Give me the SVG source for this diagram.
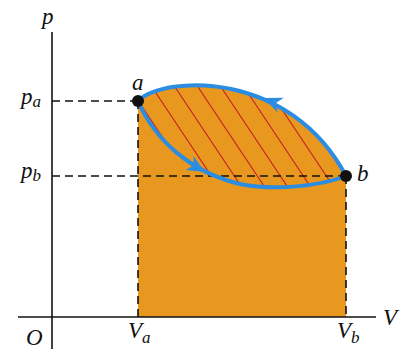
<svg xmlns="http://www.w3.org/2000/svg" width="404" height="349" viewBox="0 0 404 349">
<style>
.axis{stroke:#111;stroke-width:1.6;fill:none}
.dash{stroke:#111;stroke-width:1.6;stroke-dasharray:8,5;fill:none}
.curve{stroke:#2a8de2;stroke-width:4;fill:none;stroke-linecap:round}
.hatch{stroke:#c42228;stroke-width:1.1;fill:none}
.lbl{font-family:"Liberation Serif","Times New Roman",serif;font-style:italic;font-size:23px;fill:#111}
.sub{font-size:17px}
</style>
<defs>
<clipPath id="lens">
<path d="M138,101 C165,75 290,70 346,176 C320,186 275,191 240,184 C190,172 155,140 138,101 Z"/>
</clipPath>
<path id="ah" d="M0,0 L-18,-8 L-13,0 L-18,8 Z" fill="#2a8de2"/>
</defs>
<rect width="404" height="349" fill="#fff"/>
<g id="area">
<path d="M138,101 C165,75 290,70 346,176 L346,317 L138,317 Z" fill="#e8971f"/>
<path class="hatch" clip-path="url(#lens)" d="M111,60 L211,210 M134,60 L234,210 M157,60 L257,210 M180,60 L280,210 M203,60 L303,210 M226,60 L326,210 M249,60 L349,210 M272,60 L372,210 M295,60 L395,210 M318,60 L418,210 M341,60 L441,210"/>
</g>
<g id="axes">
<line class="axis" x1="52" y1="32" x2="52" y2="349"/>
<line class="axis" x1="18" y1="317" x2="376" y2="317"/>
</g>
<g id="guides">
<line class="dash" x1="52" y1="101" x2="138" y2="101"/>
<line class="dash" x1="52" y1="176" x2="346" y2="176"/>
<line class="dash" x1="138" y1="101" x2="138" y2="317"/>
<line class="dash" x1="346" y1="176" x2="346" y2="317"/>
</g>
<g id="connectors">
<path class="curve" d="M138,101 C165,75 290,70 346,176"/>
<path class="curve" d="M138,101 C155,140 190,172 240,184 C275,191 320,186 346,176"/>
<use href="#ah" transform="translate(205,172) rotate(30)"/>
<use href="#ah" transform="translate(264,98) rotate(203)"/>
</g>
<g id="node-a">
<circle cx="138" cy="101" r="6" fill="#111"/>
<text class="lbl" x="132" y="90">a</text>
</g>
<g id="node-b">
<circle cx="346" cy="176" r="6" fill="#111"/>
<text class="lbl" x="357" y="181">b</text>
</g>
<g id="labels">
<text class="lbl" x="42" y="24">p</text>
<text class="lbl" x="21" y="104">p<tspan class="sub" dy="3">a</tspan></text>
<text class="lbl" x="21" y="178">p<tspan class="sub" dy="3">b</tspan></text>
<text class="lbl" x="26" y="345">O</text>
<text class="lbl" x="128" y="338">V<tspan class="sub" dy="5">a</tspan></text>
<text class="lbl" x="337" y="338">V<tspan class="sub" dy="5">b</tspan></text>
<text class="lbl" x="383" y="325">V</text>
</g>
</svg>
